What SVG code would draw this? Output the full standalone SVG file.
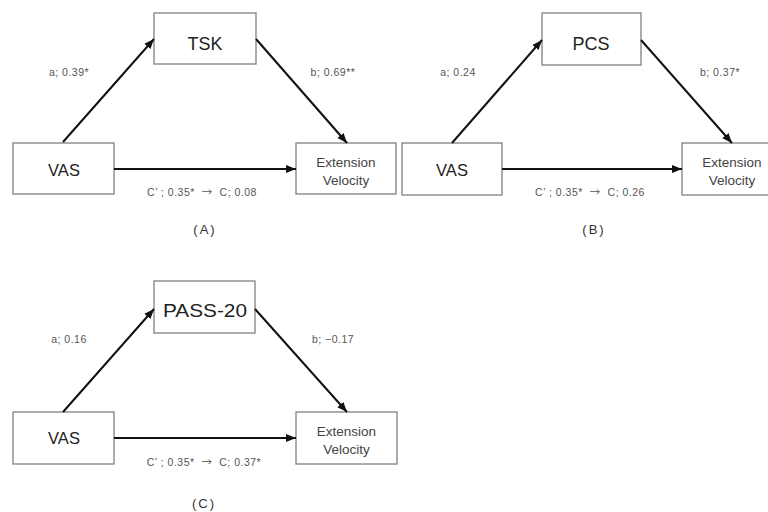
<svg xmlns="http://www.w3.org/2000/svg" width="768" height="512" viewBox="0 0 768 512">
<defs>
<marker id="ah" viewBox="0 0 10 10" refX="10" refY="5" markerWidth="5" markerHeight="5" orient="auto" markerUnits="strokeWidth">
<path d="M0,1 L10,5 L0,9 z" fill="#111"/>
</marker>
<style>
.box{fill:#fff;stroke:#808080;stroke-width:1.3}
.big{font-family:"Liberation Sans",Arial,sans-serif;fill:#222;text-anchor:middle}
.ev{font-family:"Liberation Sans",Arial,sans-serif;font-size:13.5px;fill:#444;text-anchor:middle}
.lab{font-family:"Liberation Sans",Arial,sans-serif;font-size:10.5px;fill:#555;text-anchor:middle;letter-spacing:0.5px}
.cl{font-family:"Liberation Sans",Arial,sans-serif;font-size:10.5px;fill:#555;text-anchor:middle;letter-spacing:0.5px;white-space:pre}
.ar{font-family:"Noto Sans CJK JP",sans-serif}
.cap{font-family:"Liberation Sans",Arial,sans-serif;font-size:13px;fill:#333;text-anchor:middle;letter-spacing:2px}
.arr{stroke:#111;stroke-width:2;fill:none;marker-end:url(#ah)}
</style>
</defs>
<rect width="768" height="512" fill="#fff"/>

<!-- Panel A -->
<g id="A-TSK"><rect class="box" x="154" y="13" width="102" height="51"/><text class="big" x="205" y="49.5" font-size="18">TSK</text></g>
<g id="A-VAS"><rect class="box" x="13" y="143" width="101" height="51"/><text class="big" x="64" y="176" font-size="16.5">VAS</text></g>
<g id="A-EV"><rect class="box" x="296" y="143" width="100" height="51"/><text class="ev" x="346" y="167">Extension</text><text class="ev" x="346" y="185">Velocity</text></g>

<!-- Panel B -->
<g id="B-PCS"><rect class="box" x="542" y="13" width="99" height="52"/><text class="big" x="591" y="49.5" font-size="18">PCS</text></g>
<g id="B-VAS"><rect class="box" x="402" y="143" width="100" height="52"/><text class="big" x="452" y="176" font-size="16.5">VAS</text></g>
<g id="B-EV"><rect class="box" x="682" y="143" width="100" height="52"/><text class="ev" x="732" y="167">Extension</text><text class="ev" x="732" y="185">Velocity</text></g>

<!-- Panel C -->
<g id="C-PASS"><rect class="box" x="154" y="281" width="101" height="52"/><text class="big" x="205" y="316.5" font-size="18" textLength="84" lengthAdjust="spacingAndGlyphs">PASS-20</text></g>
<g id="C-VAS"><rect class="box" x="13" y="412" width="101" height="52"/><text class="big" x="64" y="444" font-size="16.5">VAS</text></g>
<g id="C-EV"><rect class="box" x="296" y="412" width="101" height="52"/><text class="ev" x="346.5" y="436">Extension</text><text class="ev" x="346.5" y="454">Velocity</text></g>

<g id="connectors">
<line class="arr" x1="63" y1="142" x2="154" y2="39"/>
<line class="arr" x1="256" y1="39" x2="347" y2="143"/>
<line class="arr" x1="114" y1="169" x2="296" y2="169"/>

<line class="arr" x1="452" y1="143" x2="542" y2="40"/>
<line class="arr" x1="641" y1="40" x2="732" y2="143"/>
<line class="arr" x1="502" y1="169" x2="682" y2="169"/>

<line class="arr" x1="63" y1="412" x2="154" y2="309"/>
<line class="arr" x1="255" y1="309" x2="347" y2="412"/>
<line class="arr" x1="114" y1="438" x2="296" y2="438"/>
</g>

<g id="labels">
<text class="lab" x="69" y="76">a; 0.39*</text>
<text class="lab" x="333" y="76">b; 0.69**</text>
<text class="cl" x="202" y="196">C’ ; 0.35*  <tspan class="ar">→</tspan>  C; 0.08</text>
<text class="cap" x="205" y="234">(A)</text>

<text class="lab" x="458" y="76">a; 0.24</text>
<text class="lab" x="720" y="76">b; 0.37*</text>
<text class="cl" x="590" y="196">C’ ; 0.35*  <tspan class="ar">→</tspan>  C; 0.26</text>
<text class="cap" x="594" y="234">(B)</text>

<text class="lab" x="69" y="343">a; 0.16</text>
<text class="lab" x="333" y="343">b; −0.17</text>
<text class="cl" x="204" y="466">C’ ; 0.35*  <tspan class="ar">→</tspan>  C; 0.37*</text>
<text class="cap" x="204" y="508">(C)</text>
</g>
</svg>
